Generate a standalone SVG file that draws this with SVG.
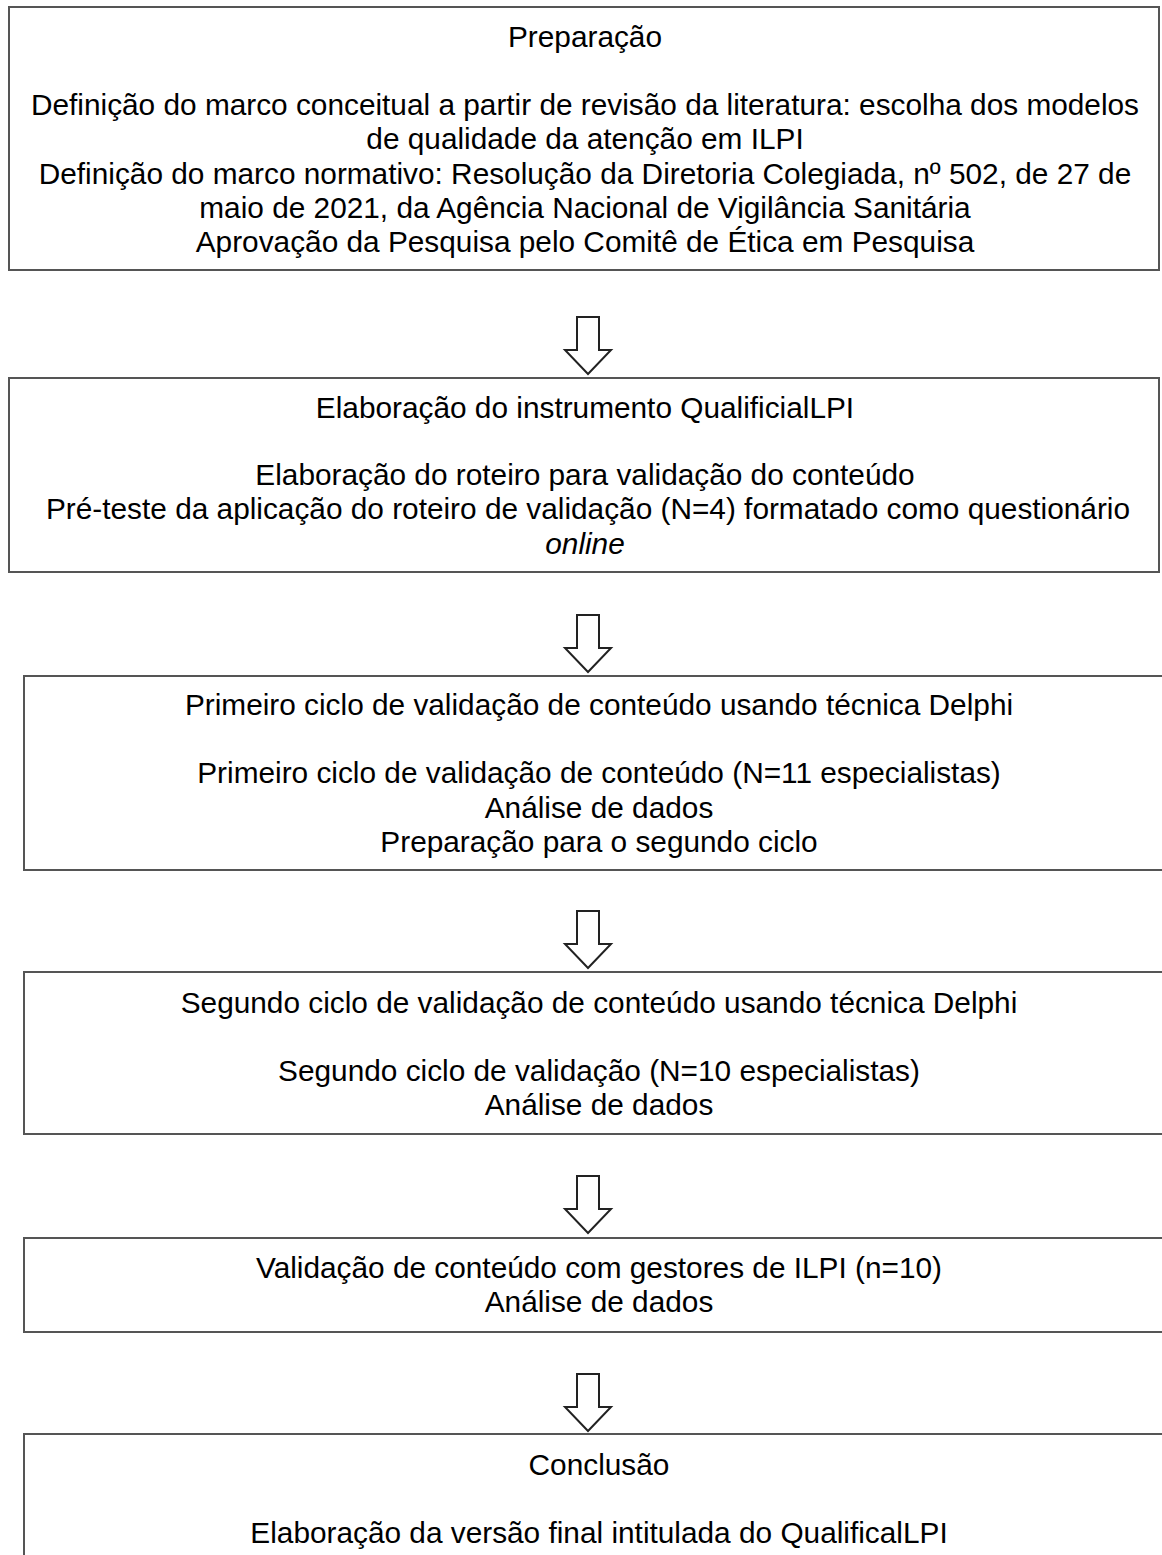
<svg xmlns="http://www.w3.org/2000/svg" width="1162" height="1555" viewBox="0 0 1162 1555">
<style>
.box{fill:#fff;stroke:#555;stroke-width:2}
.arr{fill:#fff;stroke:#222;stroke-width:2;stroke-linejoin:miter}
text{font-family:"Liberation Sans",Arial,sans-serif;font-size:29.8px;fill:#000;text-anchor:middle}
.it{font-style:italic}
</style>
<rect width="1162" height="1555" fill="#fff"/>
<g id="connectors">
<path class="arr" d="M577,317 H599 V350 H611 L588,374 L565,350 H577 Z"/>
<path class="arr" d="M577,615 H599 V648 H611 L588,672 L565,648 H577 Z"/>
<path class="arr" d="M577,911 H599 V944 H611 L588,968 L565,944 H577 Z"/>
<path class="arr" d="M577,1176 H599 V1209 H611 L588,1233 L565,1209 H577 Z"/>
<path class="arr" d="M577,1374 H599 V1407 H611 L588,1431 L565,1407 H577 Z"/>
</g>
<g id="n1">
<rect class="box" x="9" y="7" width="1150" height="263"/>
<text x="585" y="47">Preparação</text>
<text x="585" y="115">Definição do marco conceitual a partir de revisão da literatura: escolha dos modelos</text>
<text x="585" y="149">de qualidade da atenção em ILPI</text>
<text x="585" y="184">Definição do marco normativo: Resolução da Diretoria Colegiada, nº 502, de 27 de</text>
<text x="585" y="218">maio de 2021, da Agência Nacional de Vigilância Sanitária</text>
<text x="585" y="252">Aprovação da Pesquisa pelo Comitê de Ética em Pesquisa</text>
</g>
<g id="n2">
<rect class="box" x="9" y="378" width="1150" height="194"/>
<text x="585" y="418">Elaboração do instrumento QualificialLPI</text>
<text x="585" y="485">Elaboração do roteiro para validação do conteúdo</text>
<text x="588" y="519">Pré-teste da aplicação do roteiro de validação (N=4) formatado como questionário</text>
<text x="585" y="554" class="it">online</text>
</g>
<g id="n3">
<rect class="box" x="24" y="676" width="1160" height="194"/>
<text x="599" y="715">Primeiro ciclo de validação de conteúdo usando técnica Delphi</text>
<text x="599" y="783">Primeiro ciclo de validação de conteúdo (N=11 especialistas)</text>
<text x="599" y="818">Análise de dados</text>
<text x="599" y="852">Preparação para o segundo ciclo</text>
</g>
<g id="n4">
<rect class="box" x="24" y="972" width="1160" height="162"/>
<text x="599" y="1013">Segundo ciclo de validação de conteúdo usando técnica Delphi</text>
<text x="599" y="1081">Segundo ciclo de validação (N=10 especialistas)</text>
<text x="599" y="1115">Análise de dados</text>
</g>
<g id="n5">
<rect class="box" x="24" y="1238" width="1160" height="94"/>
<text x="599" y="1278">Validação de conteúdo com gestores de ILPI (n=10)</text>
<text x="599" y="1312">Análise de dados</text>
</g>
<g id="n6">
<rect class="box" x="24" y="1434" width="1160" height="140"/>
<text x="599" y="1475">Conclusão</text>
<text x="599" y="1543">Elaboração da versão final intitulada do QualificalLPI</text>
</g>
</svg>
